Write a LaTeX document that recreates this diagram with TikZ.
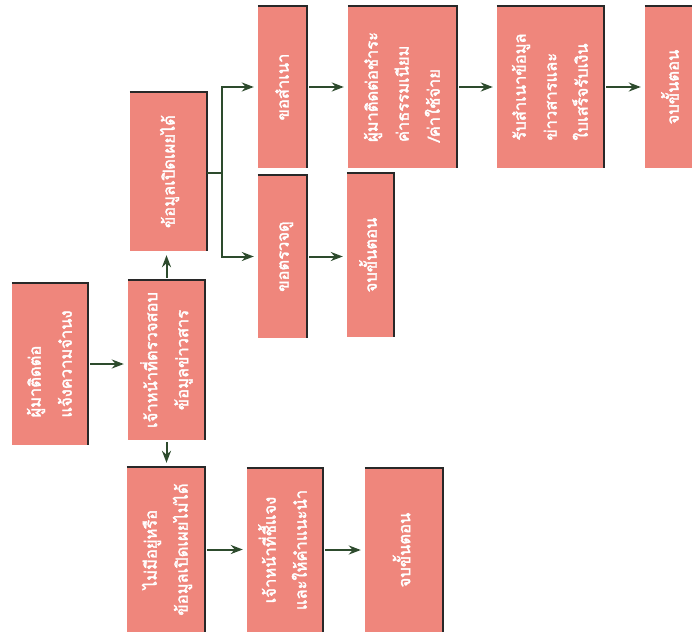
\documentclass[tikz,border=0pt]{standalone}
\usepackage{fontspec}
\newfontfamily\thai[Script=Thai,FakeBold=2.2]{Loma}
\usetikzlibrary{arrows.meta}
\definecolor{boxfill}{RGB}{239,134,124}
\definecolor{edgecol}{RGB}{40,40,40}
\definecolor{lineg}{RGB}{45,75,45}
\definecolor{tipg}{RGB}{70,170,70}
\tikzset{
  fbox/.style={fill=boxfill, draw=none, inner sep=0pt, text=white,
    font=\thai\fontsize{16.5}{31}\selectfont},
  shadeline/.style={draw=edgecol, line width=1.5pt},
  conn/.style={draw=lineg, line width=2pt},
  arr/.style={conn, -{Stealth[length=12pt,width=9pt,fill=tipg]}, shorten >=4pt, shorten <=2pt},
}
\newcommand\rtxt[2]{\rotatebox{90}{\begin{tabular}{@{}#1@{}}#2\end{tabular}}}
\begin{document}
\begin{tikzpicture}[x=1pt,y=-1pt]
\useasboundingbox[fill=white] (0,0) rectangle (692,640);
\node[fbox, minimum width=76pt, minimum height=162pt] (b1) at (50,364) {\rtxt{l}{ผู้มาติดต่อ\\แจ้งความจำนง}};
\node[fbox, minimum width=77pt, minimum height=160pt] (b2) at (166.5,360) {\rtxt{c}{เจ้าหน้าที่ตรวจสอบ\\ข้อมูลข่าวสาร}};
\node[fbox, minimum width=77pt, minimum height=159pt] (b3) at (168.5,171.5) {\rtxt{c}{ข้อมูลเปิดเผยได้}};
\node[fbox, minimum width=78pt, minimum height=165pt] (b4) at (166,549.5) {\rtxt{c}{ไม่มีอยู่หรือ\\ข้อมูลเปิดเผยไม่ได้}};
\node[fbox, minimum width=49pt, minimum height=162pt] (b5) at (282.5,87) {\rtxt{c}{ขอสำเนา}};
\node[fbox, minimum width=49pt, minimum height=163pt] (b6) at (282.5,256.5) {\rtxt{c}{ขอตรวจดู}};
\node[fbox, minimum width=109pt, minimum height=162pt] (b7) at (402.5,87) {\rtxt{l}{ผู้มาติดต่อชำระ\\ค่าธรรมเนียม\\/ค่าใช้จ่าย}};
\node[fbox, minimum width=47pt, minimum height=164pt] (b8) at (370.5,255) {\rtxt{c}{จบขั้นตอน}};
\node[fbox, minimum width=107pt, minimum height=162pt] (b9) at (550.5,87) {\rtxt{l}{รับสำเนาข้อมูล\\ข่าวสารและ\\ใบเสร็จรับเงิน}};
\node[fbox, minimum width=55pt, minimum height=162pt] (b10) at (672.5,87) {\rtxt{c}{จบขั้นตอน}};
\node[fbox, minimum width=76pt, minimum height=164pt] (b11) at (285,550) {\rtxt{c}{เจ้าหน้าที่ชี้แจง\\และให้คำแนะนำ}};
\node[fbox, minimum width=78pt, minimum height=164pt] (b12) at (404,550) {\rtxt{c}{จบขั้นตอน}};
\foreach \b in {b1,b2,b3,b4,b5,b6,b7,b8,b9,b10,b11,b12}
  \draw[shadeline] (\b.north west) -- (\b.north east) -- (\b.south east);
% connectors
\draw[arr] (b1.east) -- (b2.west |- b1.east);
\draw[arr] (b2.north) -- (b2.north |- b3.south);
\draw[arr] (b2.south) -- (b2.south |- b4.north);
\coordinate (j) at (222,173);
\draw[conn] (b3.east |- j) -- (j);
\draw[arr, shorten <=0pt] (j) |- (b5.west);
\draw[arr, shorten <=0pt] (j) |- (b6.west);
\draw[arr] (b5.east) -- (b7.west |- b5.east);
\draw[arr] (b6.east) -- (b8.west |- b6.east);
\draw[arr] (b7.east) -- (b9.west |- b7.east);
\draw[arr] (b9.east) -- (b10.west |- b9.east);
\draw[arr] (b4.east) -- (b11.west |- b4.east);
\draw[arr] (b11.east) -- (b12.west |- b11.east);
\end{tikzpicture}
\end{document}
